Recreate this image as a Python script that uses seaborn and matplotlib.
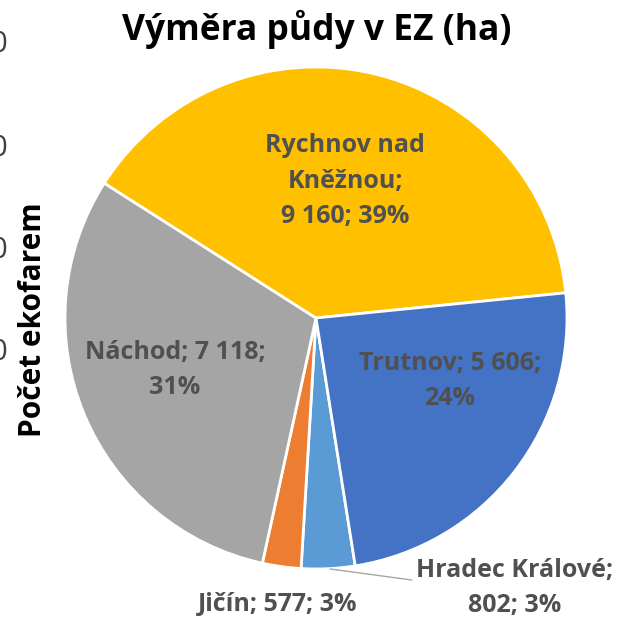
import matplotlib
matplotlib.use("Agg")
import matplotlib.pyplot as plt
import seaborn as sns

# Data
okresy = ["Hradec Králové", "Jičín", "Náchod", "Rychnov nad\nKněžnou", "Trutnov"]
vymera = [802, 577, 7118, 9160, 5606]
procenta = [3, 3, 31, 39, 24]
barvy = ["#5B9BD5", "#ED7D31", "#A5A5A5", "#FFC000", "#4472C4"]
titulek = "Výměra půdy v EZ (ha)"
ylabel = "Počet ekofarem"

sns.set_theme(style="white")
plt.rcParams['font.family'] = ['Open Sans', 'DejaVu Sans']

fig = plt.figure(figsize=(6.19, 6.20), dpi=100)
ax = fig.add_axes([0.105, 0.0823, 0.811, 0.8097])

wedges, _ = ax.pie(vymera, colors=barvy, startangle=-81, counterclock=False,
                   radius=1.0, wedgeprops=dict(edgecolor="white", linewidth=2))
ax.set_xlim(-1, 1)
ax.set_ylim(-1, 1)
ax.set_aspect("equal")

def fmt(v):
    return f"{v:,}".replace(",", " ")

# popisky: kategorie; hodnota; procenta
texty = [
    f"{okresy[0]};\n{fmt(vymera[0])}; {procenta[0]}%",
    f"{okresy[1]}; {fmt(vymera[1])}; {procenta[1]}%",
    f"{okresy[2]}; {fmt(vymera[2])};\n{procenta[2]}%",
    f"{okresy[3]};\n{fmt(vymera[3])}; {procenta[3]}%",
    f"{okresy[4]}; {fmt(vymera[4])};\n{procenta[4]}%",
]
# umisteni popisku (v jednotkach polomeru)
pozice = [(0.793, -1.076), (-0.151, -1.143), (-0.562, -0.207), (0.116, 0.545), (0.534, -0.251)]
for (x, y), t in zip(pozice, texty):
    ax.text(x, y, t, ha="center", va="center", fontsize=18, fontweight="bold",
            color="#505050", linespacing=1.55, clip_on=False)

# vodici cara pro Hradec Kralove
ax.plot([0.056, 0.382], [-1.0, -1.044], color="#A6A6A6", lw=1, clip_on=False)

fig.text(0.512, 0.952, titulek, ha="center", va="center", fontsize=25.5,
         fontweight="bold", color="black")
fig.text(0.053, 0.484, ylabel, ha="center", va="center", rotation=90,
         fontsize=21.5, fontweight="bold", color="black")

# oriznute popisky osy sousedniho grafu
for yy in [45, 148, 250, 352]:
    fig.text(-0.016, 1 - yy / 620, "0", ha="left", va="center", fontsize=21, color="#404040")

fig.savefig("out.png", dpi=100)
